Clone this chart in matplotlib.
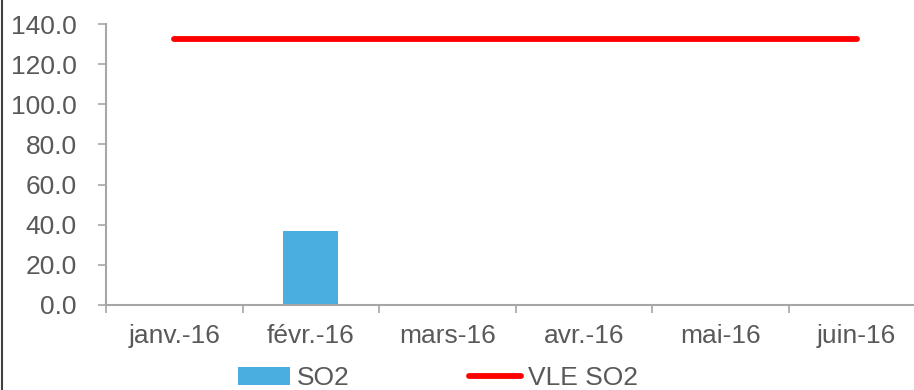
#!/usr/bin/env python3
"""
SO2 monthly values vs. VLE limit (bars + limit line).
"""
import numpy as np
import matplotlib.pyplot as plt
from matplotlib.lines import Line2D
from matplotlib.ticker import FormatStrFormatter

months = ["janv.-16", "févr.-16", "mars-16", "avr.-16", "mai-16", "juin-16"]
so2 = [0.0, 37.0, 0.0, 0.0, 0.0, 0.0]
vle_so2 = [132.4, 132.4, 132.4, 132.4, 132.4, 132.4]

TEXT = "#595959"
AXIS = "#a6a6a6"

def main():
    plt.rcParams["font.family"] = ["Liberation Sans", "DejaVu Sans"]
    W, H = 914, 390
    fig = plt.figure(figsize=(W / 100, H / 100), dpi=100)
    ax = fig.add_axes([106 / W, (H - 305) / H, 819 / W, (305 - 24) / H])

    x = np.arange(len(months))
    bars = ax.bar(x, so2, width=0.4, color="#4aaee1", label="SO2", zorder=2)
    line, = ax.plot(x, vle_so2, color="#ff0000", lw=4.2, solid_capstyle="round",
                    label="VLE SO2", zorder=3)

    ax.set_xlim(-0.5, len(months) - 0.5)
    ax.set_ylim(0, 140)
    ax.set_yticks(np.arange(0, 141, 20))
    ax.yaxis.set_major_formatter(FormatStrFormatter("%.1f"))

    # tick marks at category boundaries, labels at centers
    ax.set_xticks(np.arange(-0.5, len(months), 1.0))
    ax.set_xticklabels([])
    ax.set_xticks(x, minor=True)
    ax.set_xticklabels(months, minor=True)
    ax.tick_params(axis="x", which="major", length=6, width=1.2, color=AXIS)
    ax.tick_params(axis="x", which="minor", length=0, pad=14, labelsize=19, labelcolor=TEXT)
    ax.tick_params(axis="y", length=6, width=1.2, color=AXIS, pad=15,
                   labelsize=19, labelcolor=TEXT)

    for s in ("top", "right"):
        ax.spines[s].set_visible(False)
    for s in ("left", "bottom"):
        ax.spines[s].set_color(AXIS)
        ax.spines[s].set_linewidth(1.5)

    fig.legend([bars, line], ["SO2", "VLE SO2"], loc="center",
               bbox_to_anchor=(0.479, 12 / H), ncol=2, frameon=False,
               fontsize=19, labelcolor=TEXT, handlelength=2.0, handletextpad=0.25,
               columnspacing=4.5, borderaxespad=0)

    # chart frame edge on the left
    fig.add_artist(Line2D([1.5 / W, 1.5 / W], [0, 1], color="#404040", lw=1.5,
                          transform=fig.transFigure))

    fig.savefig("out.png", dpi=100)

if __name__ == "__main__":
    main()
